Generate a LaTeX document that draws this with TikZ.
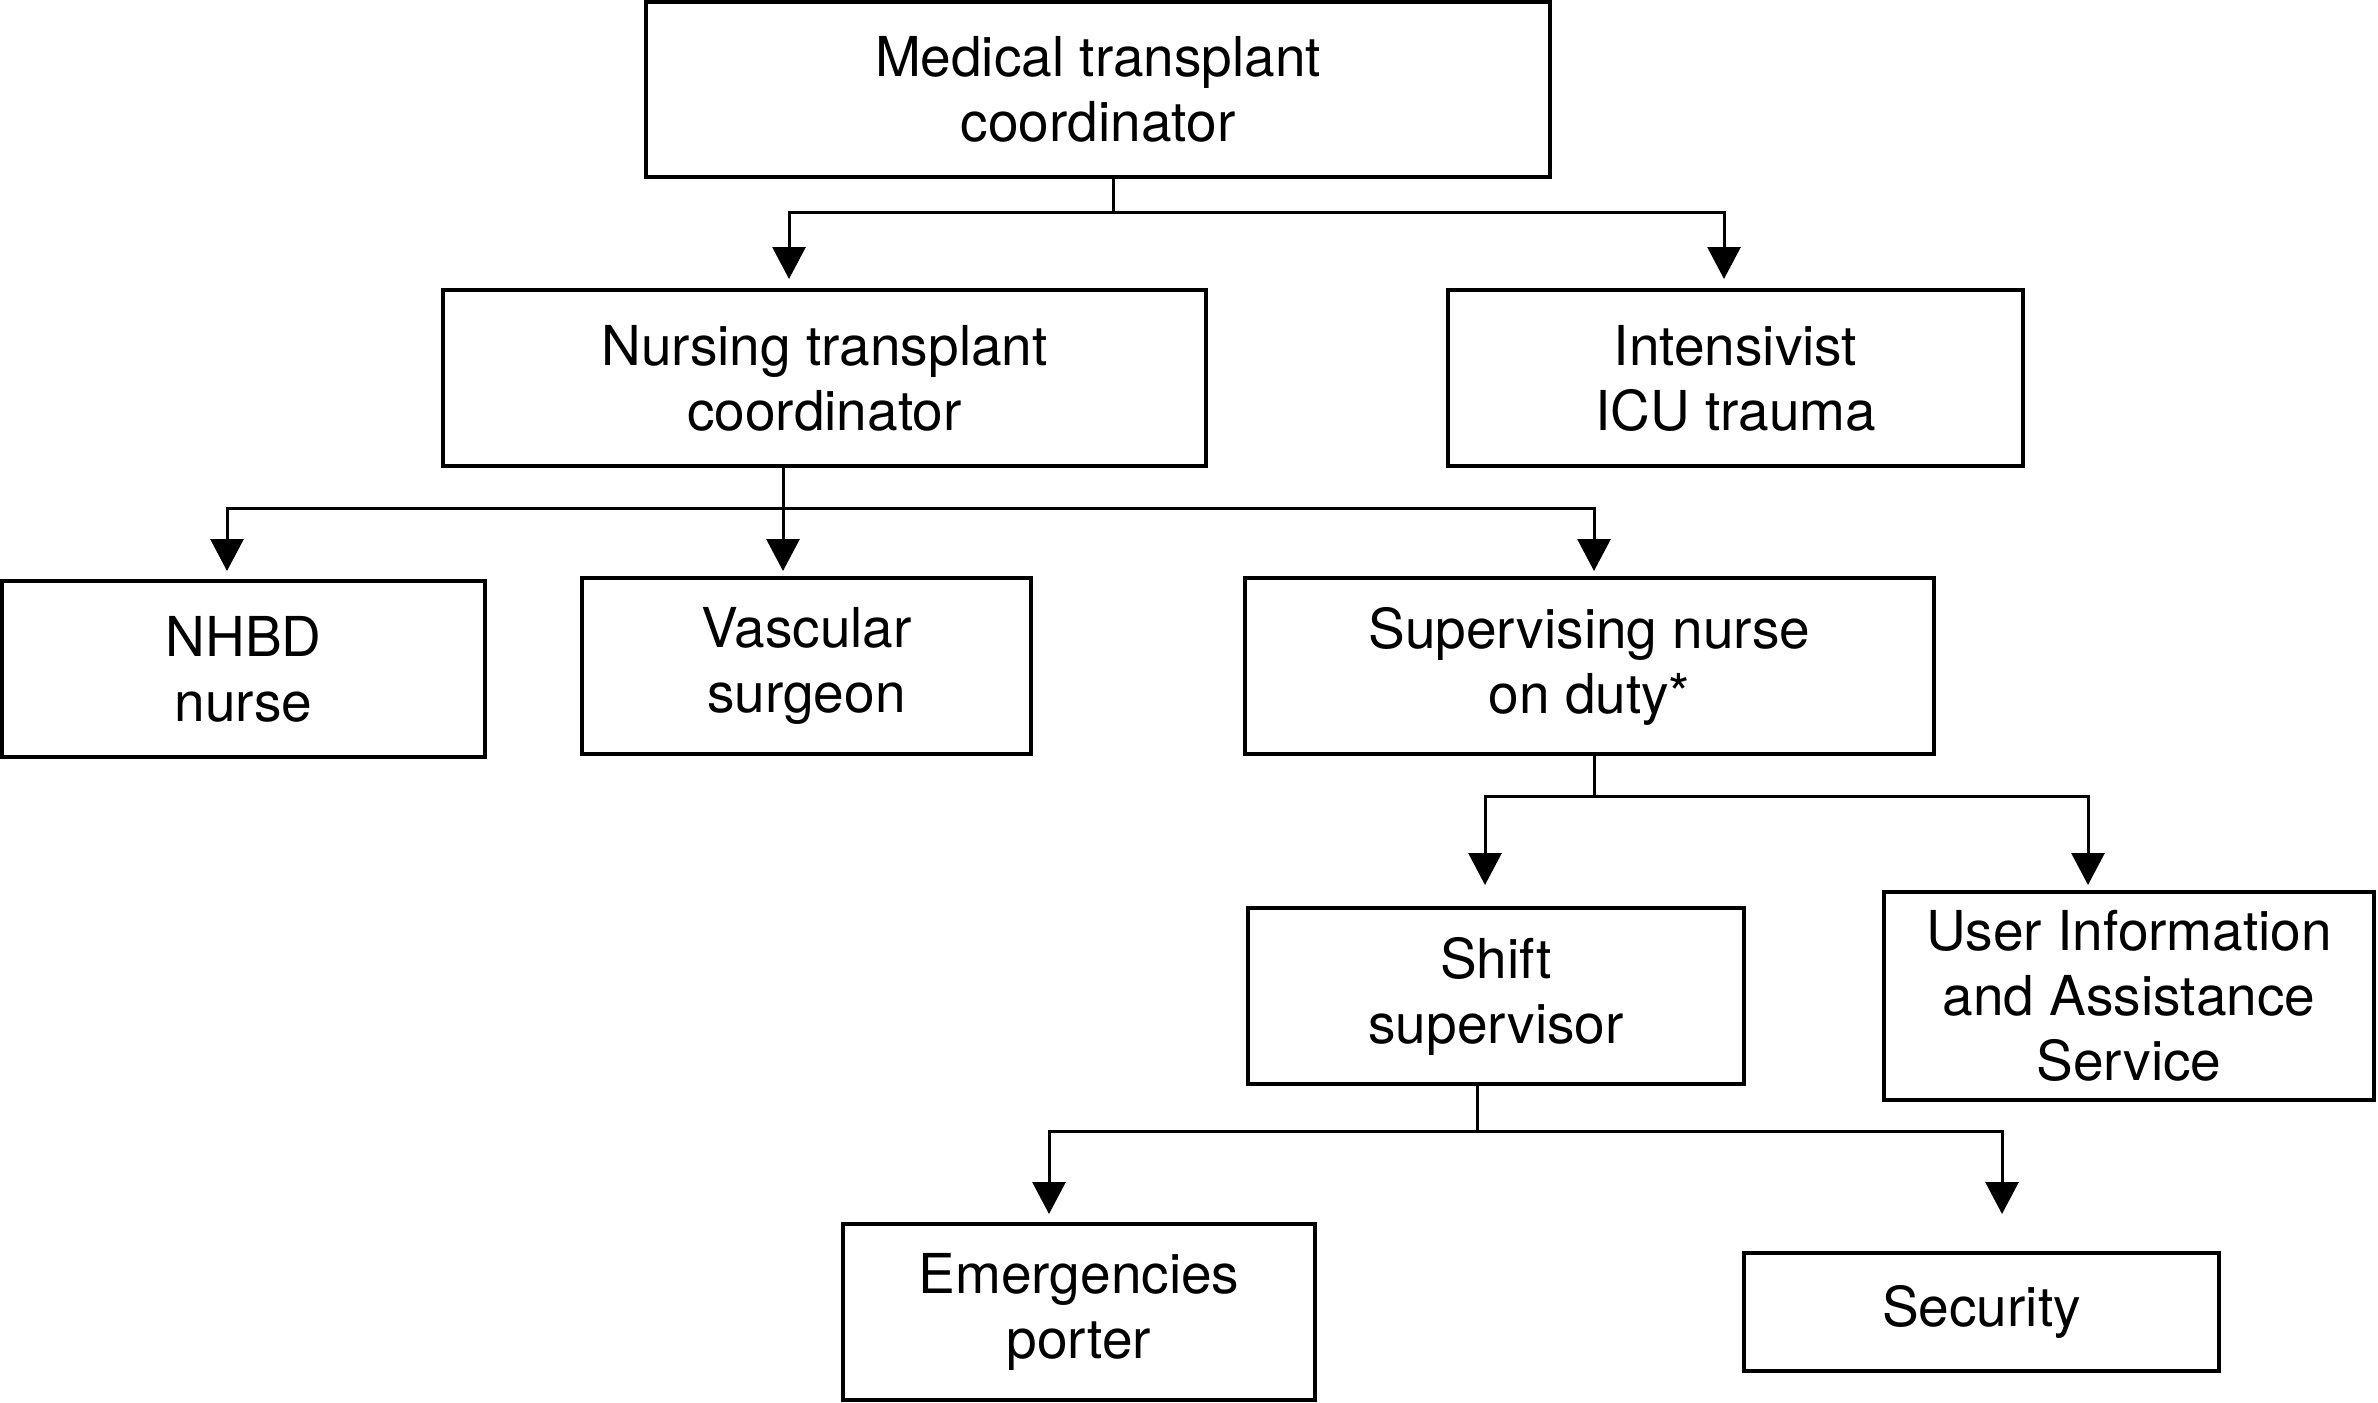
\documentclass[tikz,border=0pt]{standalone}
\usepackage{fontspec}
\setmainfont{TeX Gyre Heros}
\usetikzlibrary{arrows.meta}
\begin{document}
\begin{tikzpicture}[x=0.25pt,y=-0.25pt,
  box/.style={draw=black,line width=0.85pt,inner sep=0pt,align=center,
    font=\fontsize{13.75pt}{16.25pt}\selectfont},
  link/.style={draw=black,line width=0.75pt},
  arr/.style={link,-{Triangle[length=8pt,width=8.25pt]}}]
\useasboundingbox (0,0) rectangle (2378,1403);
% boxes
\node[box,minimum width=226pt,minimum height=43.75pt] (med) at (1098,89.5) {Medical transplant\\coordinator};
\node[box,minimum width=190.75pt,minimum height=44pt] (nurse) at (824.5,378) {Nursing transplant\\coordinator};
\node[box,minimum width=143.75pt,minimum height=44pt] (icu) at (1735.5,378) {Intensivist\\ICU trauma};
\node[box,minimum width=120.75pt,minimum height=44pt] (nhbd) at (243.5,669) {NHBD\\nurse};
\node[box,minimum width=112.25pt,minimum height=44pt] (vasc) at (806.5,666) {Vascular\\surgeon};
\node[box,minimum width=172.25pt,minimum height=44pt] (sup) at (1589.5,666) {Supervising nurse\\on duty*};
\node[box,minimum width=124pt,minimum height=44pt] (shift) at (1496,996) {Shift\\supervisor};
\node[box,minimum width=122.5pt,minimum height=52pt] (user) at (2129,996) {User Information\\and Assistance\\Service};
\node[box,minimum width=118pt,minimum height=44pt] (emerg) at (1079,1312) {Emergencies\\porter};
\node[box,minimum width=118.75pt,minimum height=29.5pt] (sec) at (1981.5,1312) {Security};
% connector coordinates
\coordinate (b1) at (1113,212);
\coordinate (t1a) at (789,279);
\coordinate (t1b) at (1724,279);
\coordinate (b2) at (783,508);
\coordinate (t2a) at (227,571);
\coordinate (t2b) at (783,571);
\coordinate (t2c) at (1594,571);
\coordinate (b3) at (1594,796);
\coordinate (t3a) at (1485,885);
\coordinate (t3b) at (2088,885);
\coordinate (b4) at (1477,1131);
\coordinate (t4a) at (1049,1214);
\coordinate (t4b) at (2002,1214);
% connectors
\draw[link] (med.south -| b1) -- (b1);
\draw[arr] (b1) -| (t1a);
\draw[arr] (b1) -| (t1b);
\draw[link] (nurse.south -| b2) -- (b2);
\draw[arr] (b2) -| (t2a);
\draw[arr] (b2) -- (t2b);
\draw[arr] (b2) -| (t2c);
\draw[link] (sup.south -| b3) -- (b3);
\draw[arr] (b3) -| (t3a);
\draw[arr] (b3) -| (t3b);
\draw[link] (shift.south -| b4) -- (b4);
\draw[arr] (b4) -| (t4a);
\draw[arr] (b4) -| (t4b);
\end{tikzpicture}
\end{document}
